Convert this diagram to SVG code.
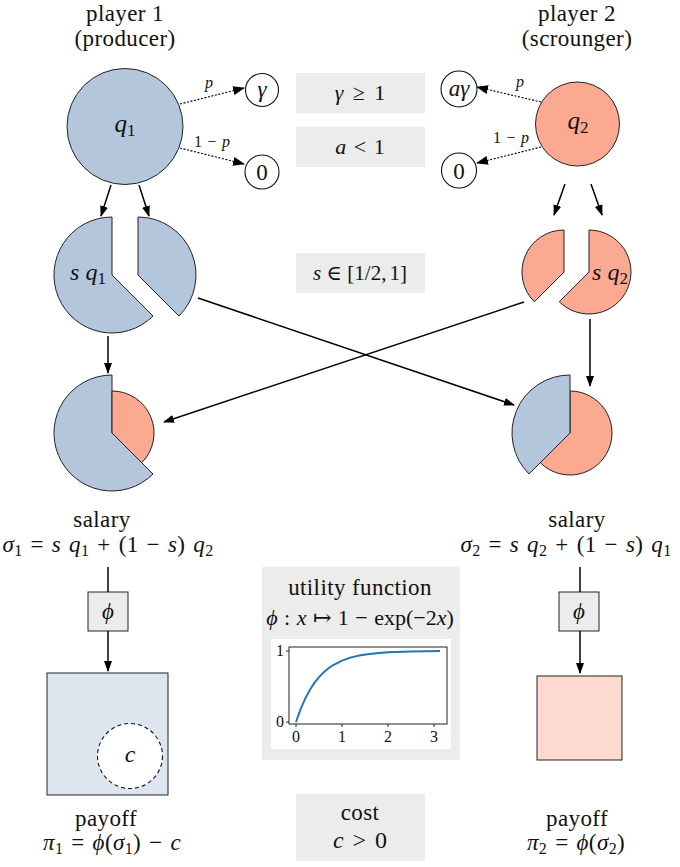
<svg xmlns="http://www.w3.org/2000/svg" width="680" height="867" viewBox="0 0 680 867" font-family="'Liberation Serif', 'DejaVu Serif', 'Times New Roman', serif">
<style>
text{font-family:'Liberation Serif','DejaVu Serif','Times New Roman',serif;fill:#111;}
.i{font-style:italic;}
.lbl{font-size:23px;letter-spacing:0.4px;}
.f{font-size:23px;letter-spacing:0.4px;word-spacing:1.8px;}
.box{fill:#ececec;}
.blue{fill:#b4c6dc;stroke:#222;stroke-width:1;}
.sal{fill:#fca992;stroke:#222;stroke-width:1;}
.small{fill:#fff;stroke:#111;stroke-width:1.1;}
.conn{stroke:#000;stroke-width:1.5;fill:none;}
.dash{stroke:#000;stroke-width:1.1;stroke-dasharray:2 1.6;fill:none;}
</style>
<defs>
<marker id="ah" markerWidth="11" markerHeight="8" refX="10" refY="4" orient="auto" markerUnits="userSpaceOnUse"><path d="M0,0 L11,4 L0,8 z" fill="#000"/></marker>
<marker id="ahd" markerWidth="12" markerHeight="9" refX="11" refY="4.5" orient="auto" markerUnits="userSpaceOnUse"><path d="M0,0 L12,4.5 L0,9 z" fill="#000"/></marker>
</defs>
<rect width="680" height="867" fill="#fff"/>

<g id="title1" text-anchor="middle">
<text x="125" y="21" class="lbl">player 1</text>
<text x="125" y="46" class="lbl">(producer)</text>
</g>
<g id="title2" text-anchor="middle">
<text x="577" y="21" class="lbl">player 2</text>
<text x="577" y="46" class="lbl">(scrounger)</text>
</g>

<g id="q1">
<circle cx="125" cy="126.5" r="58" class="blue"/>
<text x="125" y="132" font-size="25" text-anchor="middle"><tspan class="i">q</tspan><tspan font-size="17" dy="4">1</tspan></text>
</g>
<g id="q2">
<circle cx="577.5" cy="124" r="42" class="sal"/>
<text x="578" y="129" font-size="25" text-anchor="middle"><tspan class="i">q</tspan><tspan font-size="17" dy="4">2</tspan></text>
</g>

<g id="gamma1"><circle cx="262" cy="90" r="16.5" class="small"/><text x="262" y="97" class="i" font-size="23" text-anchor="middle">γ</text></g>
<g id="zero1"><circle cx="262" cy="172" r="17" class="small"/><text x="262" y="180" font-size="23" text-anchor="middle">0</text></g>
<g id="agamma2"><circle cx="459" cy="89" r="18" class="small"/><text x="459" y="96" class="i" font-size="23" text-anchor="middle">aγ</text></g>
<g id="zero2"><circle cx="459" cy="170.5" r="17.5" class="small"/><text x="459" y="178.5" font-size="23" text-anchor="middle">0</text></g>

<g id="box-gamma"><rect x="296" y="73" width="129" height="40" class="box"/><text x="360" y="100" font-size="22" text-anchor="middle" word-spacing="4"><tspan class="i">γ</tspan> ≥ 1</text></g>
<g id="box-a"><rect x="296" y="127" width="129" height="40" class="box"/><text x="360" y="154" font-size="22" text-anchor="middle" word-spacing="2"><tspan class="i">a</tspan> &lt; 1</text></g>
<g id="box-s"><rect x="296" y="253" width="129" height="40" class="box"/><text x="360" y="280" font-size="21" text-anchor="middle"><tspan class="i">s</tspan> ∈ [1/2,<tspan dx="3">1]</tspan></text></g>

<g id="pie1-split">
<path d="M112,275 L112,217 A58,58 0 1 0 153,316 Z" class="blue"/>
<path d="M138,275 L138,217 A58,58 0 0 1 179,316 Z" class="blue"/>
<text x="88" y="280" font-size="24" text-anchor="middle"><tspan class="i">s q</tspan><tspan font-size="17" dy="4">1</tspan></text>
</g>
<g id="pie2-split">
<path d="M564,272 L564,230 A42,42 0 0 0 534.3,301.7 Z" class="sal"/>
<path d="M589,272 L589,230 A42,42 0 1 1 559.3,301.7 Z" class="sal"/>
<text x="610" y="280" font-size="24" text-anchor="middle"><tspan class="i">s q</tspan><tspan font-size="17" dy="4">2</tspan></text>
</g>
<g id="pie1-mix">
<path d="M112,433 L112,375 A58,58 0 1 0 153,474 Z" class="blue"/>
<path d="M112,433 L112,391 A42,42 0 0 1 141.7,462.7 Z" class="sal"/>
</g>
<g id="pie2-mix">
<path d="M570,433 L570,391 A42,42 0 1 1 540.3,462.7 Z" class="sal"/>
<path d="M570,433 L570,375 A58,58 0 0 0 529,474 Z" class="blue"/>
</g>

<g id="salary1" text-anchor="middle">
<text x="102" y="527" class="lbl">salary</text>
<text x="108" y="552" class="f"><tspan class="i">σ</tspan><tspan font-size="16" dy="4">1</tspan><tspan dy="-4"> = </tspan><tspan class="i">s q</tspan><tspan font-size="16" dy="4">1</tspan><tspan dy="-4"> + (1 − </tspan><tspan class="i">s</tspan><tspan>) </tspan><tspan class="i">q</tspan><tspan font-size="16" dy="4">2</tspan></text>
</g>
<g id="salary2" text-anchor="middle">
<text x="577" y="527" class="lbl">salary</text>
<text x="566" y="552" class="f"><tspan class="i">σ</tspan><tspan font-size="16" dy="4">2</tspan><tspan dy="-4"> = </tspan><tspan class="i">s q</tspan><tspan font-size="16" dy="4">2</tspan><tspan dy="-4"> + (1 − </tspan><tspan class="i">s</tspan><tspan>) </tspan><tspan class="i">q</tspan><tspan font-size="16" dy="4">1</tspan></text>
</g>

<g id="phi1"><rect x="88" y="592" width="40" height="39" fill="#ececec" stroke="#222" stroke-width="1"/><text x="108" y="619" class="i" font-size="23" text-anchor="middle">ϕ</text></g>
<g id="phi2"><rect x="559" y="592" width="40" height="39" fill="#ececec" stroke="#222" stroke-width="1"/><text x="579" y="619" class="i" font-size="23" text-anchor="middle">ϕ</text></g>

<g id="payoff-square1">
<rect x="47" y="673" width="121" height="122" fill="#dde5ef" stroke="#222" stroke-width="1"/>
<circle cx="130" cy="756" r="32.5" fill="#fff" stroke="#111" stroke-width="1.1" stroke-dasharray="4 3"/>
<text x="130" y="762" class="i" font-size="24" text-anchor="middle">c</text>
</g>
<g id="payoff-square2">
<rect x="537" y="676" width="85" height="84" fill="#fed9cf" stroke="#222" stroke-width="1"/>
</g>

<g id="utility">
<rect x="262" y="567" width="198" height="193" class="box"/>
<text x="360" y="595" class="lbl" text-anchor="middle">utility function</text>
<text x="360" y="625" font-size="22" text-anchor="middle" word-spacing="1"><tspan class="i">ϕ</tspan> : <tspan class="i">x</tspan> ↦ 1 − exp(−2<tspan class="i">x</tspan>)</text>
<rect x="271" y="639" width="180" height="110" fill="#fff"/>
<rect x="289" y="647" width="158" height="77" fill="none" stroke="#222" stroke-width="1"/>
<g stroke="#222" stroke-width="1">
<line x1="286" y1="651" x2="289" y2="651"/><line x1="286" y1="722" x2="289" y2="722"/>
<line x1="296" y1="724" x2="296" y2="727"/><line x1="342" y1="724" x2="342" y2="727"/>
<line x1="388" y1="724" x2="388" y2="727"/><line x1="434" y1="724" x2="434" y2="727"/>
</g>
<g font-size="16">
<text x="284" y="656" text-anchor="end">1</text>
<text x="284" y="727" text-anchor="end">0</text>
<text x="296" y="742" text-anchor="middle">0</text>
<text x="342" y="742" text-anchor="middle">1</text>
<text x="388" y="742" text-anchor="middle">2</text>
<text x="434" y="742" text-anchor="middle">3</text>
</g>
<path d="M296,722 L300.6,709.1 L305.2,698.6 L309.8,690 L314.4,682.9 L319,677.1 L323.6,672.4 L328.2,668.5 L332.8,665.3 L342,660.6 L351.2,657.4 L360.4,655.3 L369.6,653.9 L378.8,652.9 L388,652.3 L411,651.5 L440,651.1" fill="none" stroke="#1f77b4" stroke-width="2"/>
</g>

<g id="cost">
<rect x="296" y="794" width="129" height="67" class="box"/>
<text x="360" y="820" class="lbl" text-anchor="middle">cost</text>
<text x="360" y="848" font-size="24" text-anchor="middle" word-spacing="3"><tspan class="i">c</tspan> &gt; 0</text>
</g>

<g id="payoff1" text-anchor="middle">
<text x="106" y="826" class="lbl">payoff</text>
<text x="112" y="850" class="f" word-spacing="3"><tspan class="i">π</tspan><tspan font-size="16" dy="4">1</tspan><tspan dy="-4"> = </tspan><tspan class="i">ϕ</tspan>(<tspan class="i">σ</tspan><tspan font-size="16" dy="4">1</tspan><tspan dy="-4">) − </tspan><tspan class="i">c</tspan></text>
</g>
<g id="payoff2" text-anchor="middle">
<text x="577" y="826" class="lbl">payoff</text>
<text x="576" y="850" class="f" word-spacing="3"><tspan class="i">π</tspan><tspan font-size="16" dy="4">2</tspan><tspan dy="-4"> = </tspan><tspan class="i">ϕ</tspan>(<tspan class="i">σ</tspan><tspan font-size="16" dy="4">2</tspan><tspan dy="-4">)</tspan></text>
</g>

<g id="connectors">
<line x1="180" y1="104" x2="244" y2="88" class="dash" marker-end="url(#ahd)"/>
<line x1="180" y1="148" x2="244" y2="164" class="dash" marker-end="url(#ahd)"/>
<line x1="541" y1="102" x2="477" y2="87" class="dash" marker-end="url(#ahd)"/>
<line x1="541" y1="147" x2="477" y2="163" class="dash" marker-end="url(#ahd)"/>
<text x="209" y="88" class="i" font-size="16" text-anchor="middle">p</text>
<text x="212" y="147" font-size="16" text-anchor="middle" word-spacing="1.5">1 − <tspan class="i">p</tspan></text>
<text x="520" y="87" class="i" font-size="16" text-anchor="middle">p</text>
<text x="511" y="143" font-size="16" text-anchor="middle" word-spacing="1.5">1 − <tspan class="i">p</tspan></text>
<line x1="111" y1="185" x2="101" y2="216" class="conn" marker-end="url(#ah)"/>
<line x1="139" y1="185" x2="149" y2="216" class="conn" marker-end="url(#ah)"/>
<line x1="565" y1="184" x2="554" y2="215" class="conn" marker-end="url(#ah)"/>
<line x1="591" y1="184" x2="602" y2="215" class="conn" marker-end="url(#ah)"/>
<line x1="108" y1="336" x2="108" y2="373" class="conn" marker-end="url(#ah)"/>
<line x1="590" y1="319" x2="590" y2="386" class="conn" marker-end="url(#ah)"/>
<line x1="198" y1="298" x2="514" y2="405" class="conn" marker-end="url(#ah)"/>
<line x1="524" y1="302" x2="164" y2="422" class="conn" marker-end="url(#ah)"/>
<line x1="108" y1="567" x2="108" y2="592" class="conn"/>
<line x1="108" y1="631" x2="108" y2="671" class="conn" marker-end="url(#ah)"/>
<line x1="580" y1="567" x2="580" y2="592" class="conn"/>
<line x1="580" y1="631" x2="580" y2="673" class="conn" marker-end="url(#ah)"/>
</g>
</svg>
